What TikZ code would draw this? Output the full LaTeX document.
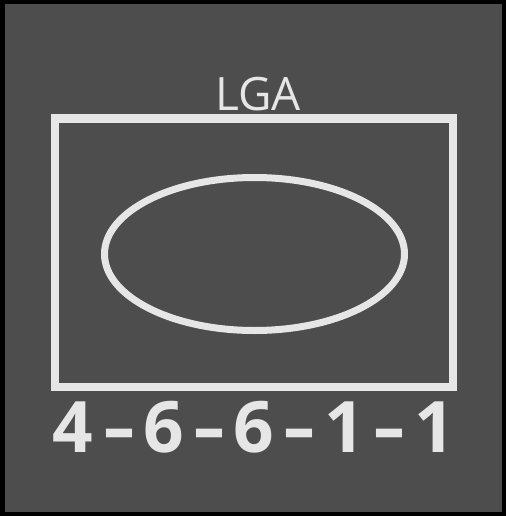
\documentclass[tikz,border=0pt]{standalone}
\usepackage{fontspec}
\usetikzlibrary{shapes.geometric}
\setmainfont{Open Sans}
\definecolor{bg}{HTML}{4D4D4D}
\definecolor{fg}{HTML}{E6E6E6}
\begin{document}
\begin{tikzpicture}[x=1pt,y=-1pt,
  shapeline/.style={draw=fg},
  lbl/.style={text=fg,inner sep=0pt,anchor=base},
  num/.style={lbl,font=\fontsize{71}{71}\selectfont\bfseries},
  sep/.style={num,xscale=1.4}]
\useasboundingbox (0,0) rectangle (506,516);
\fill[black] (0,0) rectangle (506,516);
\fill[bg] (4.5,4.5) rectangle (501.5,511.5);
\node[shapeline,line width=8pt,minimum width=398pt,minimum height=268pt,inner sep=0pt] (box) at (254,252.5) {};
\node[shapeline,line width=7pt,ellipse,minimum width=300pt,minimum height=153pt,inner sep=0pt] (oval) at (254.5,254) {};
\node[lbl,font=\fontsize{46}{46}\selectfont] (title) at (258,110.5) {LGA};
\node[num] (c1) at (73,452.5) {4};
\node[sep] (c2) at (119,452.5) {-};
\node[num] (c3) at (164,452.5) {6};
\node[sep] (c4) at (209,452.5) {-};
\node[num] (c5) at (254,452.5) {6};
\node[sep] (c6) at (299,452.5) {-};
\node[num] (c7) at (345,452.5) {1};
\node[sep] (c8) at (389,452.5) {-};
\node[num] (c9) at (435,452.5) {1};
\end{tikzpicture}
\end{document}
